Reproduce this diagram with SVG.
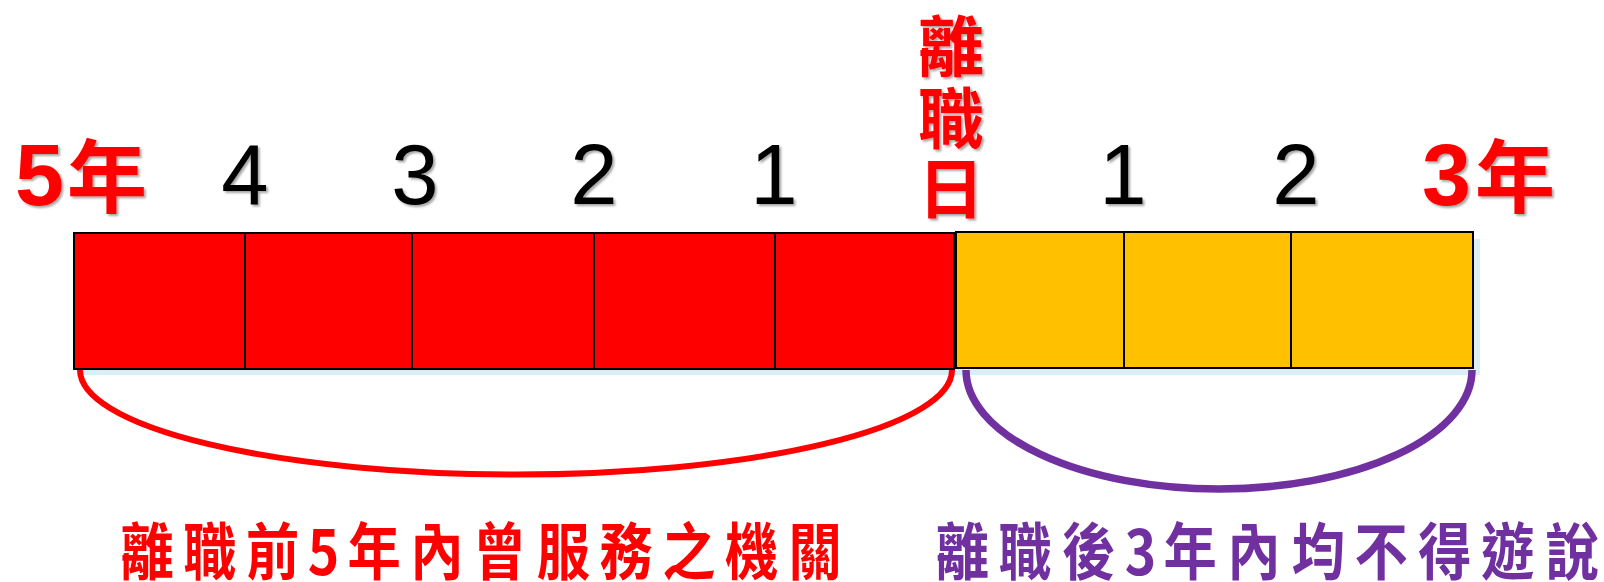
<svg xmlns="http://www.w3.org/2000/svg" width="1604" height="582" viewBox="0 0 1604 582">
<defs>
<filter id="sh" x="-20%" y="-20%" width="140%" height="140%">
<feDropShadow dx="2" dy="2" stdDeviation="1.2" flood-color="#000" flood-opacity="0.35"/>
</filter>
<style>
.cell{stroke:#000;stroke-width:2}
.red{fill:#FF0000}
.yel{fill:#FFC000}
.num{font-family:"Liberation Sans",Arial,sans-serif;font-size:85px;fill:#000;text-anchor:middle}
.big{font-family:"Liberation Sans",Arial,sans-serif;font-size:88px;font-weight:bold;fill:#FF0000}
.cjk{font-family:"Noto Sans CJK TC","Noto Sans CJK SC",sans-serif;font-weight:bold}
.arc{fill:none}
</style>
</defs>
<rect width="1604" height="582" fill="#fff"/>
<rect x="80" y="239" width="1400" height="136" fill="#DAEEF8"/>
<g id="before">
<rect class="cell red" x="74" y="233" width="171" height="136"/>
<rect class="cell red" x="245" y="233" width="167" height="136"/>
<rect class="cell red" x="412" y="233" width="182" height="136"/>
<rect class="cell red" x="594" y="233" width="181" height="136"/>
<rect class="cell red" x="775" y="233" width="179" height="136"/>
</g>
<g id="after">
<rect class="cell yel" x="956" y="232" width="168" height="136"/>
<rect class="cell yel" x="1124" y="232" width="167" height="136"/>
<rect class="cell yel" x="1291" y="232" width="182" height="136"/>
</g>
<g id="labels" filter="url(#sh)">
<text class="big" x="15" y="205">5</text>
<text class="cjk" x="107" y="206" font-size="80" fill="#FF0000" text-anchor="middle">年</text>
<text class="num" x="245" y="204">4</text>
<text class="num" x="415" y="204">3</text>
<text class="num" x="594" y="204">2</text>
<text class="num" x="774" y="204">1</text>
<text class="num" x="1123" y="204">1</text>
<text class="num" x="1296" y="204">2</text>
<text class="big" x="1422" y="205">3</text>
<text class="cjk" x="1515" y="206" font-size="80" fill="#FF0000" text-anchor="middle">年</text>
</g>
<g id="leave-day" filter="url(#sh)">
<text class="cjk" font-size="66" fill="#FF0000" text-anchor="middle"><tspan x="951" y="71">離</tspan><tspan x="951" y="143">職</tspan><tspan x="951" y="213">日</tspan></text>
</g>
<g id="connectors">
<path class="arc" d="M80,370 A436,104.5 0 0 0 952,370" stroke="#FF0000" stroke-width="6"/>
<path class="arc" d="M966,370 A253,119 0 0 0 1472,370" stroke="#7030A0" stroke-width="7.5"/>
</g>
<g id="caption-before" transform="scale(0.86,1)">
<text class="cjk" font-size="62" fill="#FF0000" text-anchor="middle" y="575"><tspan x="171">離</tspan><tspan x="244">職</tspan><tspan x="317">前</tspan><tspan x="376">5</tspan><tspan x="435">年</tspan><tspan x="508">內</tspan><tspan x="581">曾</tspan><tspan x="655">服</tspan><tspan x="728">務</tspan><tspan x="801">之</tspan><tspan x="874">機</tspan><tspan x="948">關</tspan></text>
</g>
<g id="caption-after" transform="scale(0.86,1)">
<text class="cjk" font-size="62" fill="#7030A0" text-anchor="middle" y="575"><tspan x="1119">離</tspan><tspan x="1192">職</tspan><tspan x="1266">後</tspan><tspan x="1326">3</tspan><tspan x="1384">年</tspan><tspan x="1458">內</tspan><tspan x="1533">均</tspan><tspan x="1606">不</tspan><tspan x="1680">得</tspan><tspan x="1753">遊</tspan><tspan x="1828">說</tspan></text>
</g>
</svg>
